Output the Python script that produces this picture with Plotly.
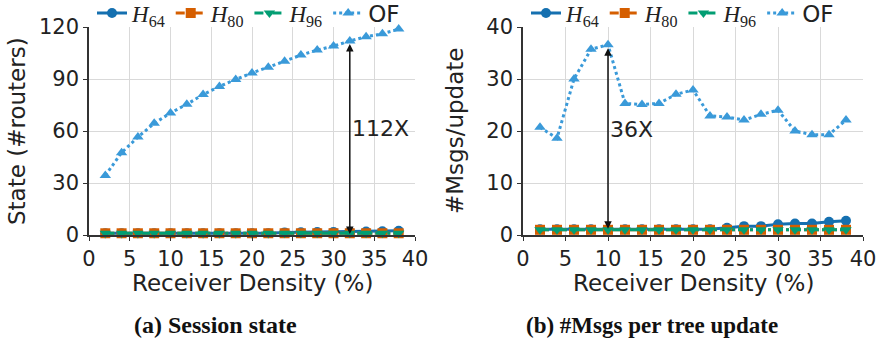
import plotly.graph_objects as go

density = [2, 4, 6, 8, 10, 12, 14, 16, 18, 20, 22, 24, 26, 28, 30, 32, 34, 36, 38]

# (a) Session state
state_h64 = [1, 1, 1, 1, 1, 1, 1, 1, 1, 1, 1, 1.5, 1.6, 1.7, 1.8, 1.9, 2.0, 2.1, 2.4]
state_h80 = [1] * 19
state_h96 = [1] * 19
state_of = [34.3, 47.5, 56.5, 64.4, 70.4, 75.4, 81.0, 85.7, 89.7, 93.5, 96.8, 100.3,
            103.8, 106.7, 109.0, 111.9, 114.4, 116.1, 118.8]

# (b) #Msgs per tree update
msgs_h64 = [1.1, 1.1, 1.1, 1.1, 1.1, 1.1, 1.1, 1.1, 1.1, 1.1, 1.1, 1.4, 1.7, 1.7, 2.05,
            2.2, 2.2, 2.55, 2.75]
msgs_h80 = [1] * 19
msgs_h96 = [1] * 19
msgs_of = [20.7, 18.6, 30.0, 35.7, 36.6, 25.3, 25.1, 25.3, 27.05, 27.9, 22.9, 22.7,
           22.1, 23.2, 24.0, 20.0, 19.3, 19.3, 22.1]

names = ["H64", "H80", "H96", "OF"]
SERIF = "Liberation Serif"
SANS = "DejaVu Sans"
W, H = 877, 356


def label(n):
    if n == "OF":
        return "OF"
    return f"<span style='font-family:{SERIF}'><i>H</i><sub>{n[1:]}</sub></span>"


styles = {
    "H64": dict(color="#1570b0", dash="solid", symbol="circle", size=10),
    "H80": dict(color="#d55e00", dash="dashdot", symbol="square", size=10),
    "H96": dict(color="#029e73", dash="dashdot", symbol="triangle-down", size=10),
    "OF": dict(color="#3a9ad9", dash="dot", symbol="triangle-up", size=10),
}

fig = go.Figure()

series_a = {"H64": state_h64, "H80": state_h80, "H96": state_h96, "OF": state_of}
series_b = {"H64": msgs_h64, "H80": msgs_h80, "H96": msgs_h96, "OF": msgs_of}

for panel, series, xa, ya, leg in [("a", series_a, "x", "y", "legend"),
                                    ("b", series_b, "x2", "y2", "legend2")]:
    for n in names:
        s = styles[n]
        fig.add_trace(go.Scatter(
            x=density, y=series[n], xaxis=xa, yaxis=ya, legend=leg,
            name=label(n), mode="lines+markers",
            line=dict(color=s["color"], dash=s["dash"], width=3),
            marker=dict(color=s["color"], symbol=s["symbol"], size=s["size"]),
            cliponaxis=False,
        ))

axis_common = dict(
    showgrid=True, gridcolor="#d9d9d9", gridwidth=1,
    showline=True, linecolor="#333333", linewidth=1.5,
    ticks="outside", ticklen=4, tickcolor="#333333",
    tickfont=dict(family=SANS, size=21, color="#222222"),
    zeroline=False, mirror=False, automargin=False,
)
TFONT = dict(family=SANS, size=23, color="#222")

fig.update_layout(
    width=W, height=H,
    margin=dict(l=0, r=0, t=0, b=0, autoexpand=False),
    paper_bgcolor="white", plot_bgcolor="white",
    showlegend=True,
    xaxis=dict(domain=[89 / W, 415 / W], range=[0, 40], dtick=5, anchor="y", **axis_common),
    yaxis=dict(domain=[1 - 235 / H, 1 - 27 / H], range=[0, 120], dtick=30, anchor="x",
               **axis_common),
    xaxis2=dict(domain=[523 / W, 863 / W], range=[0, 40], dtick=5, anchor="y2", **axis_common),
    yaxis2=dict(domain=[1 - 235 / H, 1 - 27 / H], range=[0, 40], dtick=10, anchor="x2",
                **axis_common),
    legend=dict(orientation="h", x=92 / W, xanchor="left", y=1 - 13 / H, yanchor="middle",
                font=dict(family=SANS, size=23, color="#222"), bgcolor="rgba(0,0,0,0)",
                itemwidth=30, tracegroupgap=0),
    legend2=dict(orientation="h", x=526 / W, xanchor="left", y=1 - 13 / H, yanchor="middle",
                 font=dict(family=SANS, size=23, color="#222"), bgcolor="rgba(0,0,0,0)",
                 itemwidth=30, tracegroupgap=0),
)

# Axis titles
for xc, txt in [(252, "Receiver Density (%)"), (693, "Receiver Density (%)")]:
    fig.add_annotation(x=xc / W, y=1 - 283 / H, xref="paper", yref="paper", text=txt,
                       showarrow=False, xanchor="center", yanchor="middle", font=TFONT)
for xc, txt in [(17, "State (#routers)"), (455, "#Msgs/update")]:
    fig.add_annotation(x=xc / W, y=1 - 131 / H, xref="paper", yref="paper", text=txt,
                       showarrow=False, xanchor="center", yanchor="middle", textangle=-90,
                       font=TFONT)

# Annotations: double-headed arrows and ratio labels
fig.add_annotation(x=32, y=0.6, ax=32, ay=111, xref="x", yref="y", axref="x", ayref="y",
                   text="", showarrow=True, arrowhead=2, startarrowhead=2, arrowside="end+start",
                   arrowsize=1, arrowwidth=1.5, arrowcolor="#111")
fig.add_annotation(x=32, y=61.5, xref="x", yref="y", text="112X", showarrow=False,
                   xanchor="left", yanchor="middle",
                   font=dict(family=SANS, size=22, color="#222"))
fig.add_annotation(x=10, y=1.2, ax=10, ay=36.2, xref="x2", yref="y2", axref="x2", ayref="y2",
                   text="", showarrow=True, arrowhead=2, startarrowhead=2, arrowside="end+start",
                   arrowsize=1, arrowwidth=1.5, arrowcolor="#111")
fig.add_annotation(x=10, y=20.3, xref="x2", yref="y2", text="36X", showarrow=False,
                   xanchor="left", yanchor="middle",
                   font=dict(family=SANS, size=22, color="#222"))

# Sub-figure captions
fig.add_annotation(x=215 / W, y=1 - 325 / H, xref="paper", yref="paper",
                   text="<b>(a) Session state</b>", showarrow=False,
                   xanchor="center", yanchor="middle",
                   font=dict(family=SERIF, size=24, color="#111"))
fig.add_annotation(x=652 / W, y=1 - 325 / H, xref="paper", yref="paper",
                   text="<b>(b) #Msgs per tree update</b>", showarrow=False,
                   xanchor="center", yanchor="middle",
                   font=dict(family=SERIF, size=23, color="#111"))

fig.write_html("out.html", config={"displayModeBar": False},
               post_script="document.body.style.margin='0px';document.body.style.padding='0px';")
